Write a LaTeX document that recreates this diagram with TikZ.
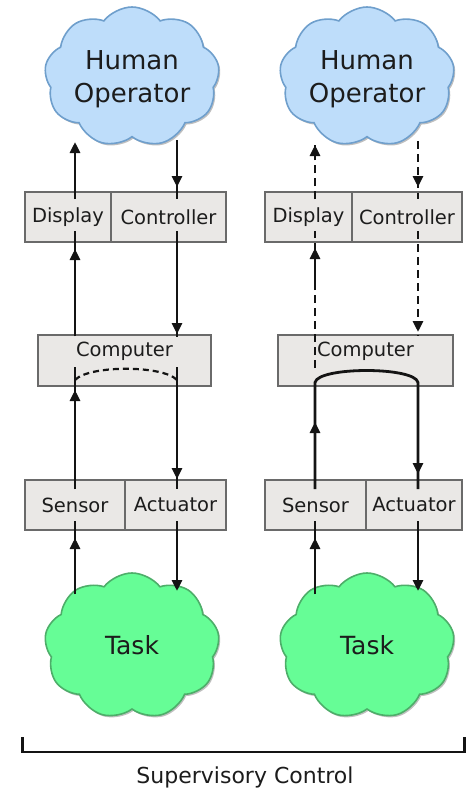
\documentclass[tikz,border=0pt]{standalone}
\usepackage{fontspec}
\setmainfont{DejaVu Sans}
\usetikzlibrary{shapes.symbols,arrows.meta,shadows,calc}
\definecolor{boxfill}{HTML}{EAE8E6}
\definecolor{boxline}{HTML}{6A6A6A}
\definecolor{bluefill}{HTML}{BEDDFA}
\definecolor{blueline}{HTML}{6F9FCC}
\definecolor{greenfill}{HTML}{66FD96}
\definecolor{greenline}{HTML}{4DAE69}
\definecolor{ink}{HTML}{141414}
\definecolor{txt}{HTML}{1C1C1C}
\begin{document}
\begin{tikzpicture}[x=1pt,y=-1pt,
  box/.style={draw=boxline,fill=boxfill,line width=2pt,minimum height=50pt,inner sep=0pt,text=txt,font=\fontsize{19.5}{22}\selectfont},
  cloudbase/.style={cloud,cloud puffs=9,cloud puff arc=105,aspect=1.3,inner sep=0pt,line width=1.6pt,
     drop shadow={shadow xshift=1.5pt,shadow yshift=-1.8pt,opacity=0.25,fill=black}},
  bluecloud/.style={cloudbase,draw=blueline,fill=bluefill,minimum width=175pt,minimum height=140pt},
  greencloud/.style={cloudbase,draw=greenline,fill=greenfill,minimum width=175pt,minimum height=146pt},
  bigtxt/.style={text=txt,align=center,font=\fontsize{26}{33}\selectfont},
  tasktxt/.style={text=txt,font=\fontsize{25}{30}\selectfont},
  conn/.style={draw=ink,line width=2.8pt},
  dconn/.style={conn,dash pattern=on 8pt off 5pt},
  tip/.style={draw=ink,line width=2.8pt,-{Triangle[length=11pt,width=10pt]}},
]
\useasboundingbox (0,0) rectangle (467,790);

% ---------- left column ----------
\node[bluecloud] (ho1) at (132,77) {};
\node[bigtxt] (ho1t) at (132,79) {Human\\Operator};
\node[box,minimum width=86pt] (disp1) at (68,217) {Display};
\node[box,minimum width=115pt] (ctrl1) at (168.5,217) {Controller};
\node[box,minimum width=173pt,minimum height=51pt] (comp1) at (124.5,360.5) {};
\node[text=txt,font=\fontsize{19.5}{22}\selectfont] (comp1t) at (124.5,351) {Computer};
\node[box,minimum width=100pt] (sens1) at (75,505) {Sensor};
\node[box,minimum width=101pt] (act1) at (175.5,505) {Actuator};
\node[greencloud] (task1) at (132,646) {};
\node[tasktxt] (task1t) at (132,645) {Task};

% ---------- right column ----------
\node[bluecloud] (ho2) at (367,77) {};
\node[bigtxt] (ho2t) at (367,79) {Human\\Operator};
\node[box,minimum width=87pt] (disp2) at (308.5,217) {Display};
\node[box,minimum width=110pt] (ctrl2) at (407,217) {Controller};
\node[box,minimum width=175pt,minimum height=51pt] (comp2) at (365.5,360.5) {};
\node[text=txt,font=\fontsize{19.5}{22}\selectfont] (comp2t) at (365.5,351) {Computer};
\node[box,minimum width=101pt] (sens2) at (315.5,505) {Sensor};
\node[box,minimum width=96pt] (act2) at (414,505) {Actuator};
\node[greencloud] (task2) at (367,646) {};
\node[tasktxt] (task2t) at (367,645) {Task};

% column x-positions and cloud boundary points
\coordinate (L1) at (75,0);  \coordinate (R1) at (177,0);
\coordinate (L2) at (315,0); \coordinate (R2) at (418,0);
\coordinate (ho1L) at (75,142);   \coordinate (ho1R) at (177,140);
\coordinate (ho2L) at (315,145);  \coordinate (ho2R) at (418,141);
\coordinate (task1L) at (75,594); \coordinate (task1R) at (177,591);
\coordinate (task2L) at (315,594);\coordinate (task2R) at (418,591);

% ---------- left column connectors ----------
\draw[tip] ([yshift=-8pt]disp1.north -| L1) -- (ho1L);
\draw[conn] (ho1R) -- ([yshift=-8pt]ctrl1.north -| R1);
\draw[tip] (ho1R) -- ([yshift=4pt]ctrl1.north -| R1);
\draw[conn] ([yshift=-2pt]comp1.north -| L1) -- ([yshift=12pt]disp1.south -| L1);
\draw[tip] ([yshift=-2pt]comp1.north -| L1) -- ([yshift=-6pt]disp1.south -| L1);
\draw[conn] ([yshift=12pt]ctrl1.south -| R1) -- ([yshift=-3pt]comp1.north -| R1);
\draw[tip] ([yshift=12pt]ctrl1.south -| R1) -- (comp1.north -| R1);
\draw[conn] ([yshift=-10pt]sens1.north -| L1) -- ([yshift=-6.5pt]comp1.center -| L1);
\draw[tip] ([yshift=-10pt]sens1.north -| L1) -- ([yshift=-3pt]comp1.south -| L1);
\draw[conn] ([yshift=-6.5pt]comp1.center -| R1) -- ([yshift=-10pt]act1.north -| R1);
\draw[tip] ([yshift=-6.5pt]comp1.center -| R1) -- (act1.north -| R1);
\coordinate (a1) at ([yshift=-19.5pt]comp1.center -| L1);
\coordinate (b1) at ([yshift=-19.5pt]comp1.center -| R1);
\draw[conn,line width=2.2pt,dash pattern=on 6pt off 4pt] (a1) .. controls ($(a1)+(14,-15)$) and ($(b1)+(-14,-15)$) .. (b1);
\draw[conn] (task1L) -- ([yshift=10pt]sens1.south -| L1);
\draw[tip] (task1L) -- ([yshift=-7pt]sens1.south -| L1);
\draw[tip] ([yshift=10pt]act1.south -| R1) -- (task1R);

% ---------- right column connectors ----------
\draw[dconn] ([yshift=-8pt]disp2.north -| L2) -- (ho2L);
\draw[tip,dash pattern=on 8pt off 5pt] ([yshift=-8pt]disp2.north -| L2) -- (ho2L);
\draw[dconn] (ho2R) -- ([yshift=-8pt]ctrl2.north -| R2);
\draw[tip,dash pattern=on 8pt off 5pt] (ho2R) -- ([yshift=4pt]ctrl2.north -| R2);
\draw[dconn] ([yshift=-7.5pt]comp2.center -| L2) -- ([yshift=12pt]disp2.south -| L2);
\draw[tip] ([yshift=-41pt]disp2.south -| L2) -- ([yshift=-5pt]disp2.south -| L2);
\draw[dconn] ([yshift=12pt]ctrl2.south -| R2) -- ([yshift=-2pt]comp2.north -| R2);
\draw[tip,dash pattern=on 8pt off 5pt] ([yshift=12pt]ctrl2.south -| R2) -- ([yshift=2pt]comp2.north -| R2);
\coordinate (a2) at ([yshift=-22pt]comp2.center -| L2);
\coordinate (b2) at ([yshift=-22pt]comp2.center -| R2);
\draw[conn] ([yshift=-10pt]sens2.north -| L2) -- (a2) .. controls ($(a2)+(3,-16)$) and ($(b2)+(-3,-16)$) .. (b2) -- ([yshift=-10pt]act2.north -| R2);
\draw[tip] ([yshift=-10pt]sens2.north -| L2) -- ([yshift=57pt]sens2.north -| L2);
\draw[tip] (b2) -- ([yshift=5pt]act2.north -| R2);
\draw[conn] (task2L) -- ([yshift=10pt]sens2.south -| L2);
\draw[tip] (task2L) -- ([yshift=-7pt]sens2.south -| L2);
\draw[tip] ([yshift=10pt]act2.south -| R2) -- (task2R);

% ---------- bracket ----------
\draw[draw=ink,line width=2.2pt] (22.5,737) -- (22.5,752) -- (464.5,752) -- (464.5,737);
\node[text=txt,font=\fontsize{22}{26}\selectfont,anchor=base] (sc) at (245,783) {Supervisory Control};
\end{tikzpicture}
\end{document}
